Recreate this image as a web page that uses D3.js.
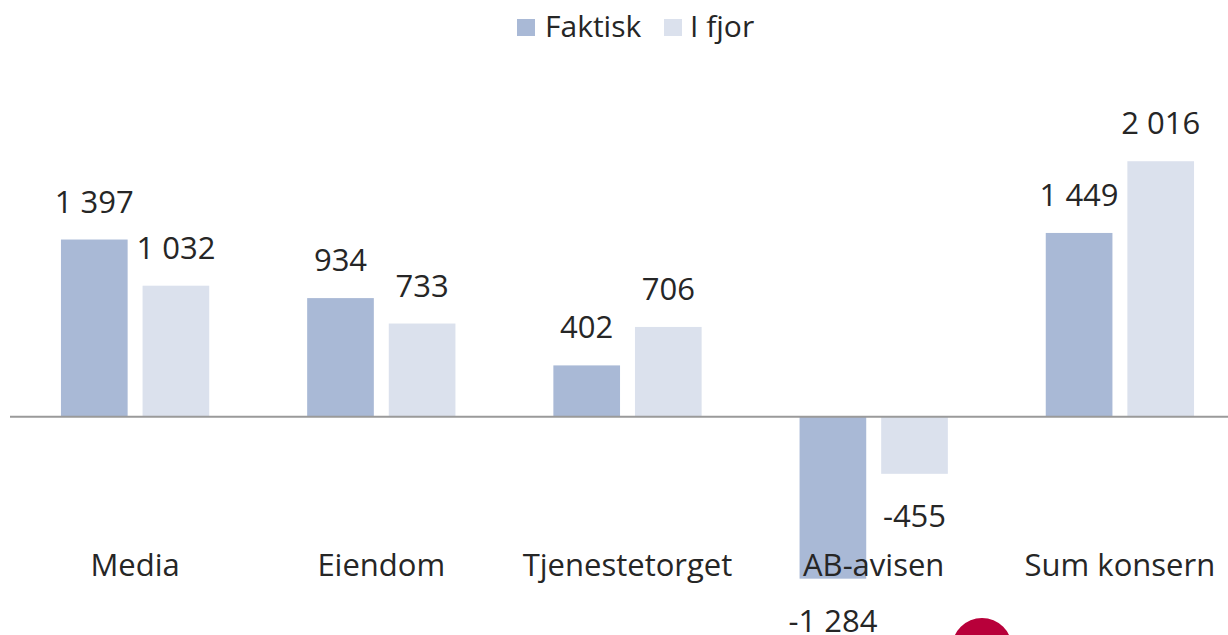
<!DOCTYPE html>
<html>
<head>
<meta charset="utf-8">
<script src="https://cdn.jsdelivr.net/npm/d3@7"></script>
<style>
  body { margin: 0; background: #fff; }
  text { font-family: "Open Sans", sans-serif; fill: #262626; }
</style>
</head>
<body>
<svg></svg>
<script>
var categories = ["Media", "Eiendom", "Tjenestetorget", "AB-avisen", "Sum konsern"]
var series = ["Faktisk", "I fjor"]
var faktisk = [1397, 934, 402, -1284, 1449]
var ifjor = [1032, 733, 706, -455, 2016]

var colors = { "Faktisk": "#a9b9d6", "I fjor": "#dbe1ed" }

var width = 1228
var height = 635
var svg = d3.select('svg').attr('width', width).attr('height', height)

var locale = d3.formatLocale({ decimal: ",", thousands: " ", grouping: [3], currency: ["", ""], minus: "-" })
var fmt = locale.format(",d")

var rows = categories.map(function(c, i) {
  return { cat: c, values: [{ key: "Faktisk", value: faktisk[i] }, { key: "I fjor", value: ifjor[i] }] }
})

var x0 = d3.scaleBand().domain(categories).range([12, 1243])
var x1 = d3.scaleBand().domain(series).range([0, x0.bandwidth()])
  .paddingInner(0.183).paddingOuter(0.6)
var y = d3.scaleLinear().domain([-1500, 2500]).range([606, 100])

var groups = svg.append('g').selectAll('g')
  .data(rows)
  .enter().append('g')
  .attr('transform', function(d) { return 'translate(' + x0(d.cat) + ',0)' })

groups.selectAll('rect')
  .data(function(d) { return d.values })
  .enter().append('rect')
  .attr('x', function(d) { return x1(d.key) })
  .attr('width', x1.bandwidth())
  .attr('y', function(d) { return y(Math.max(0, d.value)) })
  .attr('height', function(d) { return Math.abs(y(d.value) - y(0)) })
  .attr('fill', function(d) { return colors[d.key] })

// zero line
svg.append('line')
  .attr('x1', 10).attr('x2', width)
  .attr('y1', y(0) + 0.5).attr('y2', y(0) + 0.5)
  .attr('stroke', '#9a9a9a').attr('stroke-width', 2)

// value labels
groups.selectAll('text.val')
  .data(function(d) { return d.values })
  .enter().append('text')
  .attr('class', 'val')
  .attr('text-anchor', 'middle')
  .attr('font-size', 31)
  .attr('x', function(d) { return x1(d.key) + x1.bandwidth() / 2 })
  .attr('y', function(d) { return d.value >= 0 ? y(d.value) - 27 : y(d.value) + 53 })
  .text(function(d) { return fmt(d.value) })

// category labels
groups.append('text')
  .attr('text-anchor', 'middle')
  .attr('font-size', 31)
  .attr('x', x0.bandwidth() / 2)
  .attr('y', 576)
  .text(function(d) { return d.cat })

// legend
var legend = svg.append('g')
var legendItems = [{ key: "Faktisk", x: 517, tx: 545 }, { key: "I fjor", x: 664, tx: 690 }]
legend.selectAll('rect')
  .data(legendItems)
  .enter().append('rect')
  .attr('x', function(d) { return d.x })
  .attr('y', 19)
  .attr('width', 18).attr('height', 17)
  .attr('fill', function(d) { return colors[d.key] })
legend.selectAll('text')
  .data(legendItems)
  .enter().append('text')
  .attr('x', function(d) { return d.tx })
  .attr('y', 37)
  .attr('font-size', 30)
  .text(function(d) { return d.key })

// logo fragment at the bottom edge
svg.append('circle').attr('cx', 982).attr('cy', 648).attr('r', 30).attr('fill', '#b8003a')
svg.append('circle').attr('cx', 980).attr('cy', 650).attr('r', 15).attr('fill', '#fff')
</script>
</body>
</html>
